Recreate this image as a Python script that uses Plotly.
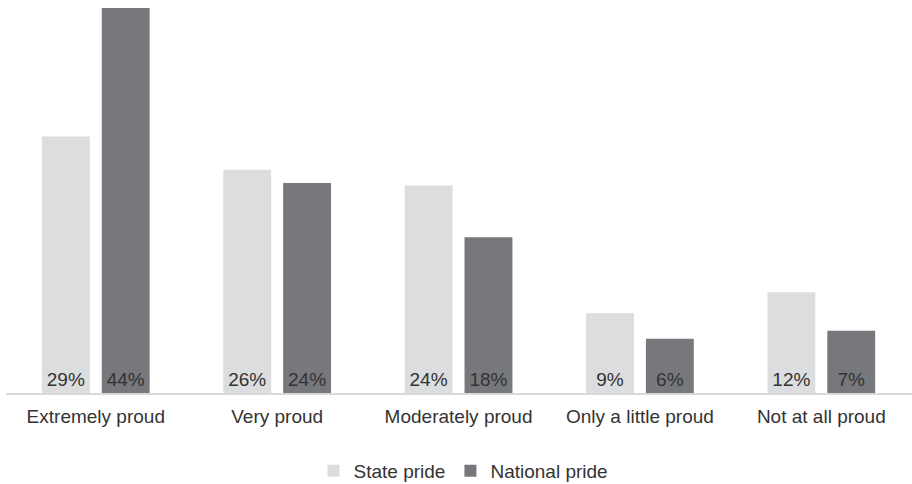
import plotly.graph_objects as go

categories = ["Extremely proud", "Very proud", "Moderately proud", "Only a little proud", "Not at all proud"]
state_values = [29.3, 25.5, 23.7, 9.1, 11.5]
national_values = [44.0, 24.0, 17.8, 6.2, 7.1]
state_labels = ["29%", "26%", "24%", "9%", "12%"]
national_labels = ["44%", "24%", "18%", "6%", "7%"]

FONT = "Liberation Sans, Arial, sans-serif"

fig = go.Figure()
fig.add_trace(go.Bar(
    name="State pride", x=categories, y=state_values,
    text=state_labels, textposition="inside", insidetextanchor="start",
    textangle=0, constraintext="none",
    textfont=dict(size=19, color="#333333", family=FONT),
    marker=dict(color="#dcdddf", line=dict(width=0)),
    hoverinfo="x+y",
))
fig.add_trace(go.Bar(
    name="National pride", x=categories, y=national_values,
    text=national_labels, textposition="inside", insidetextanchor="start",
    textangle=0, constraintext="none",
    textfont=dict(size=19, color="#333333", family=FONT),
    marker=dict(color="#77787b", line=dict(width=0)),
    hoverinfo="x+y",
))

fig.update_layout(
    width=912, height=484,
    margin=dict(l=6, r=0, t=0, b=91, autoexpand=False),
    paper_bgcolor="white", plot_bgcolor="white",
    barmode="group", bargap=0.34, bargroupgap=0.2,
    font=dict(family=FONT, size=19, color="#333333"),
    showlegend=True,
    legend=dict(orientation="h", x=0.505, xanchor="center", y=-0.198, yanchor="middle",
                font=dict(size=19, color="#333333", family=FONT),
                itemwidth=30, traceorder="normal"),
    xaxis=dict(showline=True, linecolor="#d9d9d9", linewidth=1.5,
               range=[-0.495, 4.5],
               ticks="outside", ticklen=5, tickcolor="rgba(0,0,0,0)",
               tickfont=dict(size=19, color="#333333", family=FONT),
               showgrid=False, zeroline=False),
    yaxis=dict(range=[0, 44.91], visible=False, showgrid=False, zeroline=False),
)

fig.write_html("out.html")
